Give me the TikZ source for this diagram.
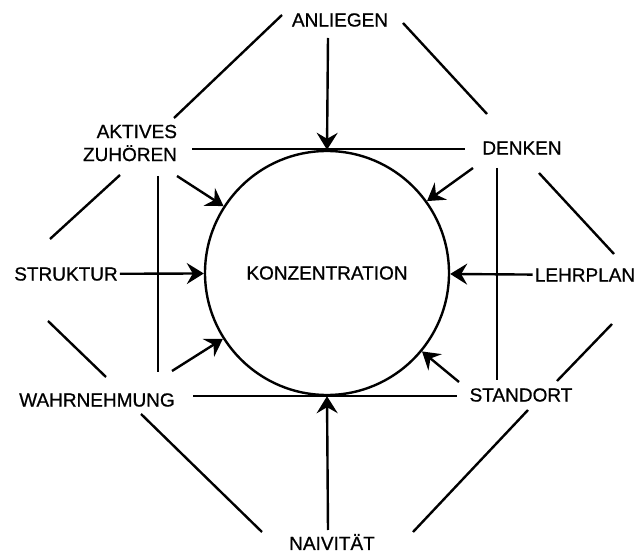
\documentclass[tikz,border=0pt]{standalone}
\usepackage{fontspec}
\setmainfont{Liberation Sans}[FakeBold=0.8]
\usetikzlibrary{positioning,arrows.meta}
\tikzset{
  figfont/.style={font=\fontsize{19}{23}\selectfont},
  figlabel/.style={inner sep=2pt},
  figline/.style={line width=2.4pt},
  figarrow/.style={figline, -{Stealth[length=17pt,width=21pt,inset=6pt]}},
}
\begin{document}
\begin{tikzpicture}[x=1pt, y=-1pt, figfont]
		\useasboundingbox (0,0) rectangle (643,553);
		% Centre circle
		\node[draw, circle, figline, minimum size=244pt, inner sep=0pt] (konz) at (327,273) {KONZENTRATION};

		% Labels round the circle
		\node[figlabel] (anl) at (340,20) {ANLIEGEN};
		\node[figlabel] (denk) at (522,148) {DENKEN};
		\node[figlabel] (lehr) at (585,275) {LEHRPLAN};
		\node[figlabel] (stand) at (521,395) {STANDORT};
		\node[figlabel] (naiv) at (332,542) {NAIVITÄT};
		\node[figlabel] (wahr) at (97,400) {WAHRNEHMUNG};
		\node[figlabel] (stru) at (66,274) {STRUKTUR};
		\node[figlabel, align=right] (akt) at (130,143) {AKTIVES\\ZUHÖREN};

		% Arrow feet
		\coordinate (anlfoot) at (328,38);
		\coordinate (naifoot) at (328,530);
		\coordinate (aktfoot) at (177,176);
		\coordinate (wahrfoot) at (172,371);
		\coordinate (denkfoot) at (473,168);
		\coordinate (standfoot) at (459,382);

		% Arrows into the circle
		\draw[figarrow] (anlfoot) -- (konz.north);
		\draw[figarrow] (naifoot) -- (konz.south);
		\draw[figarrow] (stru) -- (konz);
		\draw[figarrow] (lehr) -- (konz);
		\draw[figarrow] (aktfoot) -- (konz);
		\draw[figarrow] (wahrfoot) -- (konz);
		\draw[figarrow] (denkfoot) -- (konz);
		\draw[figarrow] (standfoot) -- (konz);

		% Inner cross lines
		\draw[figline] (192,149) -- (465,149);
		\draw[figline] (193,396) -- (457,396);
		\draw[figline] (158,176) -- (158,372);
		\draw[figline] (497,168) -- (497,380);

		% Outer ring of lines
		\draw[figline] (282,15) -- (174,118);
		\draw[figline] (403,23) -- (487,114);
		\draw[figline] (539,173) -- (614,254);
		\draw[figline] (612,324) -- (557,381);
		\draw[figline] (528,410) -- (413,532);
		\draw[figline] (141,414) -- (262,532);
		\draw[figline] (48,321) -- (106,377);
		\draw[figline] (50,239) -- (120,175);
	\end{tikzpicture}
\end{document}
